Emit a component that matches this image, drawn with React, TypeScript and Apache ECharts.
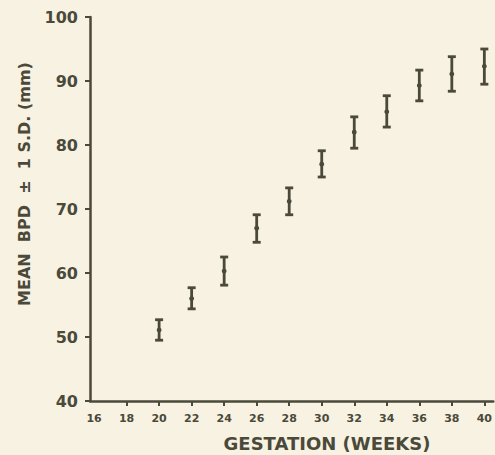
import React, { useEffect, useRef } from "react";
import * as echarts from "echarts";

const weeks = [20, 22, 24, 26, 28, 30, 32, 34, 36, 38, 40];
const meanBPD = [51.1, 56.0, 60.3, 67.0, 71.2, 77.0, 82.0, 85.2, 89.3, 91.1, 92.3];
const lowerSD = [49.5, 54.4, 58.1, 64.8, 69.1, 75.0, 79.5, 82.8, 86.9, 88.4, 89.5];
const upperSD = [52.7, 57.7, 62.5, 69.1, 73.3, 79.1, 84.4, 87.7, 91.7, 93.8, 95.0];
const xTickLabels = [16, 18, 20, 22, 24, 26, 28, 30, 32, 34, 36, 38, 40];
const xTickMarks = [18, 20, 22, 24, 26, 28, 30, 32, 34, 36, 38, 40];

const INK = "#4a493a";
const PAPER = "#f8f2e2";
const FONT = "DejaVu Sans";

export default function App() {
  const ref = useRef<HTMLDivElement>(null);
  useEffect(() => {
    document.body.style.margin = "0";
    document.body.style.background = PAPER;
    const chart = echarts.init(ref.current!, null, { renderer: "svg" });
    const barData = weeks.map((w, i) => [w, lowerSD[i], upperSD[i], meanBPD[i]]);
    chart.setOption({
      animation: false,
      backgroundColor: PAPER,
      grid: { left: 90, right: 0, top: 17, bottom: 54 },
      xAxis: {
        type: "value",
        min: 15.75,
        max: 40.55,
        splitLine: { show: false },
        axisLine: { show: true, lineStyle: { color: INK, width: 2.5 } },
        axisTick: {
          show: true,
          customValues: xTickMarks,
          inside: false,
          length: 5,
          lineStyle: { color: INK, width: 2 },
        },
        axisLabel: {
          customValues: xTickLabels,
          color: INK,
          fontFamily: FONT,
          fontWeight: "bold",
          fontSize: 11,
          margin: 12,
        },
      },
      yAxis: {
        type: "value",
        min: 40,
        max: 100,
        interval: 10,
        splitLine: { show: false },
        axisLine: { show: true, lineStyle: { color: INK, width: 2.5 } },
        axisTick: { show: true, length: 5, lineStyle: { color: INK, width: 2 } },
        axisLabel: {
          color: INK,
          fontFamily: FONT,
          fontWeight: "bold",
          fontSize: 16,
          margin: 12,
        },
      },
      graphic: [
        {
          type: "text",
          x: 24,
          y: 184,
          rotation: Math.PI / 2,
          style: {
            text: "MEAN  BPD  ±  1 S.D. (mm)",
            fill: INK,
            font: `bold 16px ${FONT}`,
            textAlign: "center",
            textVerticalAlign: "middle",
          },
        },
        {
          type: "text",
          x: 327,
          y: 443,
          style: {
            text: "GESTATION (WEEKS)",
            fill: INK,
            font: `bold 18px ${FONT}`,
            textAlign: "center",
            textVerticalAlign: "middle",
          },
        },
      ],
      series: [
        {
          type: "custom",
          data: barData,
          renderItem: (params: any, api: any) => {
            const x = api.value(0);
            const lo = api.coord([x, api.value(1)]);
            const hi = api.coord([x, api.value(2)]);
            const mid = api.coord([x, api.value(3)]);
            const cap = 4;
            const st = { stroke: INK, lineWidth: 2.8 };
            return {
              type: "group",
              children: [
                { type: "line", shape: { x1: lo[0], y1: lo[1], x2: hi[0], y2: hi[1] }, style: st },
                { type: "line", shape: { x1: lo[0] - cap, y1: lo[1], x2: lo[0] + cap, y2: lo[1] }, style: st },
                { type: "line", shape: { x1: hi[0] - cap, y1: hi[1], x2: hi[0] + cap, y2: hi[1] }, style: st },
                { type: "circle", shape: { cx: mid[0], cy: mid[1], r: 2.4 }, style: { fill: INK } },
              ],
            };
          },
        },
      ],
    });
    return () => chart.dispose();
  }, []);
  return <div ref={ref} style={{ width: 495, height: 455, background: PAPER }} />;
}
